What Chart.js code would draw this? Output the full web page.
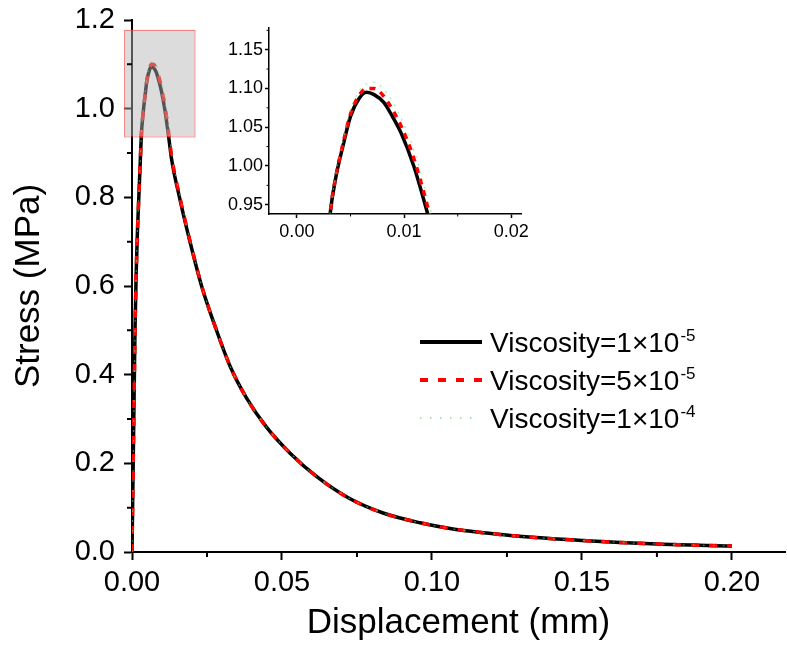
<!DOCTYPE html>
<html>
<head>
<meta charset="utf-8">
<script src="https://cdn.jsdelivr.net/npm/chart.js@4.4.1/dist/chart.umd.min.js"></script>
<style>
  html, body { margin: 0; padding: 0; background: #fff; }
  #wrap { position: relative; width: 787px; height: 653px; }
  #main { position: absolute; left: 0; top: 0; }
  #inset { position: absolute; left: 200px; top: 8px; }
</style>
</head>
<body>
<div id="wrap">
  <canvas id="main" width="787" height="653"></canvas>
  <canvas id="inset" width="340" height="240"></canvas>
</div>
<script>
// values (mm, MPa)
const displacement = [0, 0.0002, 0.0004, 0.0007, 0.001, 0.0014, 0.0018, 0.0023, 0.0027, 0.0031,
  0.0036, 0.0043, 0.005, 0.0058, 0.0065, 0.0072, 0.0081, 0.0089, 0.0097, 0.0109,
  0.0122, 0.0132, 0.016, 0.0194, 0.0232, 0.0277, 0.0327, 0.0382, 0.0449, 0.0527,
  0.0616, 0.0727, 0.0837, 0.096, 0.107, 0.118, 0.128, 0.15, 0.175, 0.2];

const stressVisc1e5 = [0, 0.1, 0.2, 0.35, 0.5, 0.63, 0.72, 0.805, 0.87, 0.938,
  0.983, 1.026, 1.064, 1.087, 1.095, 1.092, 1.082, 1.064, 1.043, 1.0,
  0.938, 0.886, 0.795, 0.698, 0.6, 0.509, 0.419, 0.347, 0.281, 0.223,
  0.17, 0.12, 0.088, 0.066, 0.052, 0.043, 0.036, 0.026, 0.018, 0.0136];

const stressVisc5e5 = [0, 0.1, 0.2, 0.35, 0.5, 0.63, 0.72, 0.805, 0.87, 0.939,
  0.984, 1.029, 1.067, 1.091, 1.1, 1.1, 1.09, 1.073, 1.052, 1.01,
  0.947, 0.893, 0.799, 0.7, 0.601, 0.509, 0.419, 0.347, 0.281, 0.223,
  0.17, 0.12, 0.088, 0.066, 0.052, 0.043, 0.036, 0.026, 0.018, 0.0136];

const stressVisc1e4 = [0, 0.1, 0.2, 0.35, 0.5, 0.63, 0.72, 0.806, 0.871, 0.94,
  0.986, 1.032, 1.072, 1.097, 1.106, 1.108, 1.099, 1.083, 1.062, 1.021,
  0.958, 0.9, 0.803, 0.702, 0.602, 0.51, 0.419, 0.347, 0.281, 0.223,
  0.17, 0.12, 0.088, 0.066, 0.052, 0.043, 0.036, 0.026, 0.018, 0.0136];

const seriesNames = ["Viscosity=1×10", "Viscosity=5×10", "Viscosity=1×10"];
const seriesExponents = ["-5", "-5", "-4"];

const xTicks = [0, 0.05, 0.1, 0.15, 0.2];
const xMinor = [0.025, 0.075, 0.125, 0.175];
const yTicks = [0, 0.2, 0.4, 0.6, 0.8, 1.0, 1.2];
const yMinor = [0.1, 0.3, 0.5, 0.7, 0.9, 1.1];

const insetXTicks = [0, 0.01, 0.02];
const insetXMinor = [0.005, 0.015];
const insetYTicks = [0.95, 1.0, 1.05, 1.1, 1.15];
const insetYMinor = [0.975, 1.025, 1.075, 1.125, 1.175];

const insetXMin = -0.0026, insetXMax = 0.0209;
const insetYMin = 0.938, insetYMax = 1.178;

const FONT = 'Arial, "Liberation Sans", sans-serif';
Chart.defaults.font.family = FONT;
Chart.defaults.color = "#000";

const toPoints = ys => displacement.map((x, i) => ({ x: x, y: ys[i] }));

function makeDatasets(inset) {
  return [
    {
      label: seriesNames[0], data: toPoints(stressVisc1e5),
      borderColor: "#000", borderWidth: 3.5, order: 3
    },
    {
      label: seriesNames[1], data: toPoints(stressVisc5e5),
      borderColor: "#ff0000", borderWidth: 3.5, borderDash: inset ? [6, 6] : [8, 10], order: 2
    },
    {
      label: seriesNames[2], data: toPoints(stressVisc1e4),
      borderColor: "rgba(110,220,110,0.6)", borderWidth: 1.2, borderDash: inset ? [2, 6] : [2, 8], order: 1
    }
  ].map(d => Object.assign(d, {
    showLine: true, pointRadius: 0, fill: false,
    cubicInterpolationMode: "monotone", clip: 0
  }));
}

// short ticks between the labelled ones
const minorTicks = {
  id: "minorTicks",
  afterDraw(chart, args, opts) {
    const { ctx, scales: { x, y } } = chart;
    ctx.save();
    ctx.strokeStyle = "#000";
    ctx.lineWidth = opts.width;
    ctx.beginPath();
    opts.x.forEach(v => {
      const px = x.getPixelForValue(v);
      ctx.moveTo(px, x.top);
      ctx.lineTo(px, x.top + opts.len);
    });
    opts.y.forEach(v => {
      const py = y.getPixelForValue(v);
      ctx.moveTo(y.right, py);
      ctx.lineTo(y.right - opts.len, py);
    });
    ctx.stroke();
    ctx.restore();
  }
};

// grey box marking the zoomed region
const zoomBox = {
  id: "zoomBox",
  afterDatasetsDraw(chart) {
    const { ctx, scales: { x, y } } = chart;
    const l = x.getPixelForValue(insetXMin), r = x.getPixelForValue(insetXMax);
    const t = y.getPixelForValue(insetYMax), b = y.getPixelForValue(insetYMin);
    ctx.save();
    ctx.fillStyle = "rgba(181,181,181,0.47)";
    ctx.fillRect(l, t, r - l, b - t);
    ctx.strokeStyle = "rgba(255,60,60,0.55)";
    ctx.lineWidth = 1;
    ctx.strokeRect(Math.round(l) + 0.5, Math.round(t) + 0.5, r - l, b - t);
    ctx.restore();
  }
};

// legend with superscript exponents
const supLegend = {
  id: "supLegend",
  afterDraw(chart) {
    const ctx = chart.ctx;
    const x0 = 420, lineLen = 62, textX = 490;
    const baselines = [352, 390, 428];
    chart.data.datasets.forEach((ds, i) => {
      const yb = baselines[i];
      ctx.save();
      ctx.strokeStyle = ds.borderColor;
      ctx.lineWidth = i === 2 ? 2 : 4;
      ctx.setLineDash(i === 1 ? [8, 10] : i === 2 ? [1.5, 8.5] : []);
      ctx.beginPath();
      ctx.moveTo(x0, yb - 10);
      ctx.lineTo(x0 + (i === 2 ? 58 : lineLen), yb - 10);
      ctx.stroke();
      ctx.setLineDash([]);
      ctx.fillStyle = "#000";
      ctx.textBaseline = "alphabetic";
      ctx.font = "28px " + FONT;
      ctx.fillText(seriesNames[i], textX, yb);
      const w = ctx.measureText(seriesNames[i]).width;
      ctx.font = "17px " + FONT;
      ctx.fillText(seriesExponents[i], textX + w + 1, yb - 11);
      ctx.restore();
    });
  }
};

function axisOpts(o) {
  return {
    type: "linear",
    min: o.min, max: o.max,
    afterBuildTicks: axis => { axis.ticks = o.ticks.map(v => ({ value: v })); },
    afterFit: o.fit,
    border: { display: true, color: "#000", width: o.border },
    grid: {
      display: true, drawOnChartArea: false, drawTicks: true,
      tickLength: o.tickLen, tickWidth: o.border, tickColor: "#000"
    },
    ticks: {
      autoSkip: false, maxRotation: 0, padding: o.pad,
      font: { size: o.fontSize },
      callback: v => v.toFixed(o.digits)
    },
    title: o.title ? {
      display: true, text: o.title, padding: o.titlePad,
      font: { size: 35 }
    } : { display: false }
  };
}

new Chart(document.getElementById("main"), {
  type: "scatter",
  data: { datasets: makeDatasets(false) },
  options: {
    responsive: false, animation: false,
    layout: { padding: { top: 20, right: 2, left: 0, bottom: 0 } },
    plugins: {
      legend: { display: false }, tooltip: { enabled: false },
      minorTicks: { x: xMinor, y: yMinor, len: 5, width: 2 }
    },
    scales: {
      x: axisOpts({
        min: 0, max: 0.2177, ticks: xTicks, digits: 2, fontSize: 29, pad: 6,
        tickLen: 8, border: 2, title: "Displacement (mm)", titlePad: { top: 0, bottom: 9 },
        fit: s => { s.height = 101; }
      }),
      y: axisOpts({
        min: 0, max: 1.2, ticks: yTicks, digits: 1, fontSize: 29, pad: 9,
        tickLen: 8, border: 2, title: "Stress (MPa)", titlePad: { top: 8, bottom: 0 },
        fit: s => { s.width = 132; s.paddingTop = 0; s.paddingBottom = 0; }
      })
    }
  },
  plugins: [minorTicks, zoomBox, supLegend]
});

new Chart(document.getElementById("inset"), {
  type: "scatter",
  data: { datasets: makeDatasets(true) },
  options: {
    responsive: false, animation: false,
    layout: { padding: { top: 20, right: 19, left: 0, bottom: 0 } },
    plugins: {
      legend: { display: false }, tooltip: { enabled: false },
      minorTicks: { x: insetXMinor, y: insetYMinor, len: 2.5, width: 1 }
    },
    scales: {
      x: axisOpts({
        min: insetXMin, max: insetXMax, ticks: insetXTicks, digits: 2, fontSize: 18, pad: 3,
        tickLen: 4, border: 1.5, fit: s => { s.height = 34; }
      }),
      y: axisOpts({
        min: insetYMin, max: insetYMax, ticks: insetYTicks, digits: 2, fontSize: 18, pad: 2,
        tickLen: 4, border: 1.5, fit: s => { s.width = 69; s.paddingTop = 0; s.paddingBottom = 0; }
      })
    }
  },
  plugins: [minorTicks]
});
</script>
</body>
</html>
